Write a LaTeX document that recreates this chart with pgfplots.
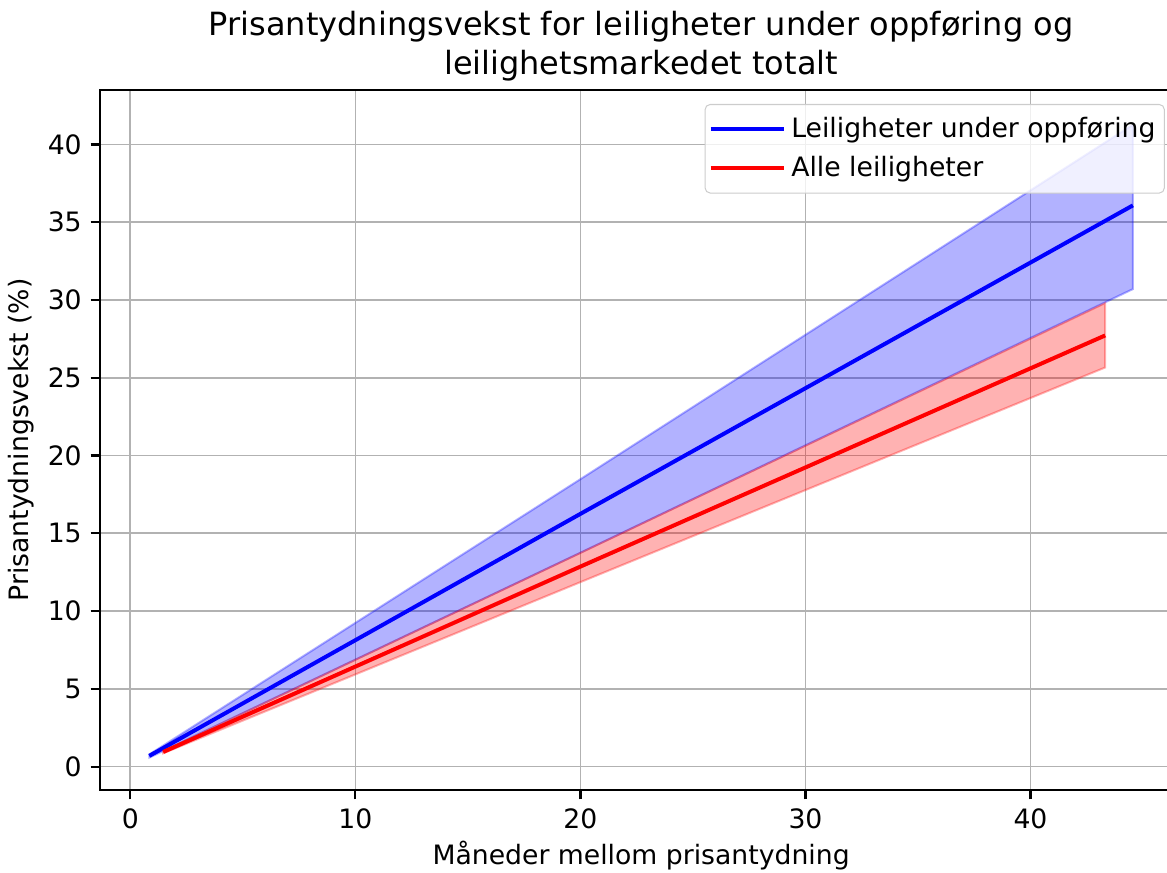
\documentclass[border=0pt]{standalone}
\usepackage{pgfplots}
\pgfplotsset{compat=1.18}
\usepackage{fontspec}
\setmainfont{DejaVu Sans}
\begin{document}
\begin{tikzpicture}
\useasboundingbox (-39.56pt,-32.84pt) rectangle (422.1pt,312.5pt);
\begin{axis}[
  scale only axis, width=428.1pt, height=276.9pt,
  at={(0pt,0pt)}, anchor=south west,
  xmin=-1.35, xmax=46.74, ymin=-1.5, ymax=43.5,
  xtick={0,10,20,30,40}, ytick={0,5,...,40},
  /pgf/number format/assume math mode=true,
  tick label style={font=\fontsize{10.55}{12.6}\selectfont},
  grid=major, grid style={color=black!30, line width=0.7pt},
  axis line style={line width=0.85pt},
  tick align=outside, major tick length=3.7pt,
  tick style={black, line width=0.85pt},
  xtick pos=lower, ytick pos=left,
  xlabel={Måneder mellom prisantydning},
  ylabel={Prisantydningsvekst (\%)},
  label style={font=\fontsize{10.55}{12.6}\selectfont},
  xlabel style={yshift=2pt},
  ylabel style={yshift=-1.5pt},
  title={Prisantydningsvekst for leiligheter under oppføring og\\leilighetsmarkedet totalt},
  title style={font=\fontsize{12.65}{15.2}\selectfont, align=center, yshift=-6pt},
  legend style={at={(axis description cs:0.984,0.98)}, anchor=north east,
    draw=black!20, rounded corners=2pt, fill=white, fill opacity=0.8, text opacity=1,
    font=\fontsize{10.55}{12.6}\selectfont, row sep=2pt, inner xsep=1.5pt, inner ysep=3pt},
  legend cell align=left,
  legend image code/.code={\draw[#1, line width=1.58pt] (0pt,0pt) -- (21pt,0pt); \path (0pt,0pt) -- (29pt,0pt);},
]
% blue band
\addplot[forget plot, fill=blue, fill opacity=0.3, draw=blue, draw opacity=0.3, line width=0.8pt]
  coordinates {(0.84,0.78) (20,18.48) (44.55,41.27) (44.55,30.70) (20,13.75) (0.84,0.58)} -- cycle;
% red band
\addplot[forget plot, fill=red, fill opacity=0.3, draw=red, draw opacity=0.3, line width=0.8pt]
  coordinates {(1.46,1.00) (20,13.74) (43.32,29.80) (43.32,25.66) (20,11.86) (1.46,0.86)} -- cycle;
\addplot[blue, line width=1.58pt] coordinates {(0.84,0.69) (20,16.25) (44.55,36.08)};
\addlegendentry{Leiligheter under oppføring}
\addplot[red, line width=1.58pt] coordinates {(1.46,0.94) (20,12.86) (43.32,27.72)};
\addlegendentry{Alle leiligheter}
\end{axis}
\end{tikzpicture}
\end{document}
